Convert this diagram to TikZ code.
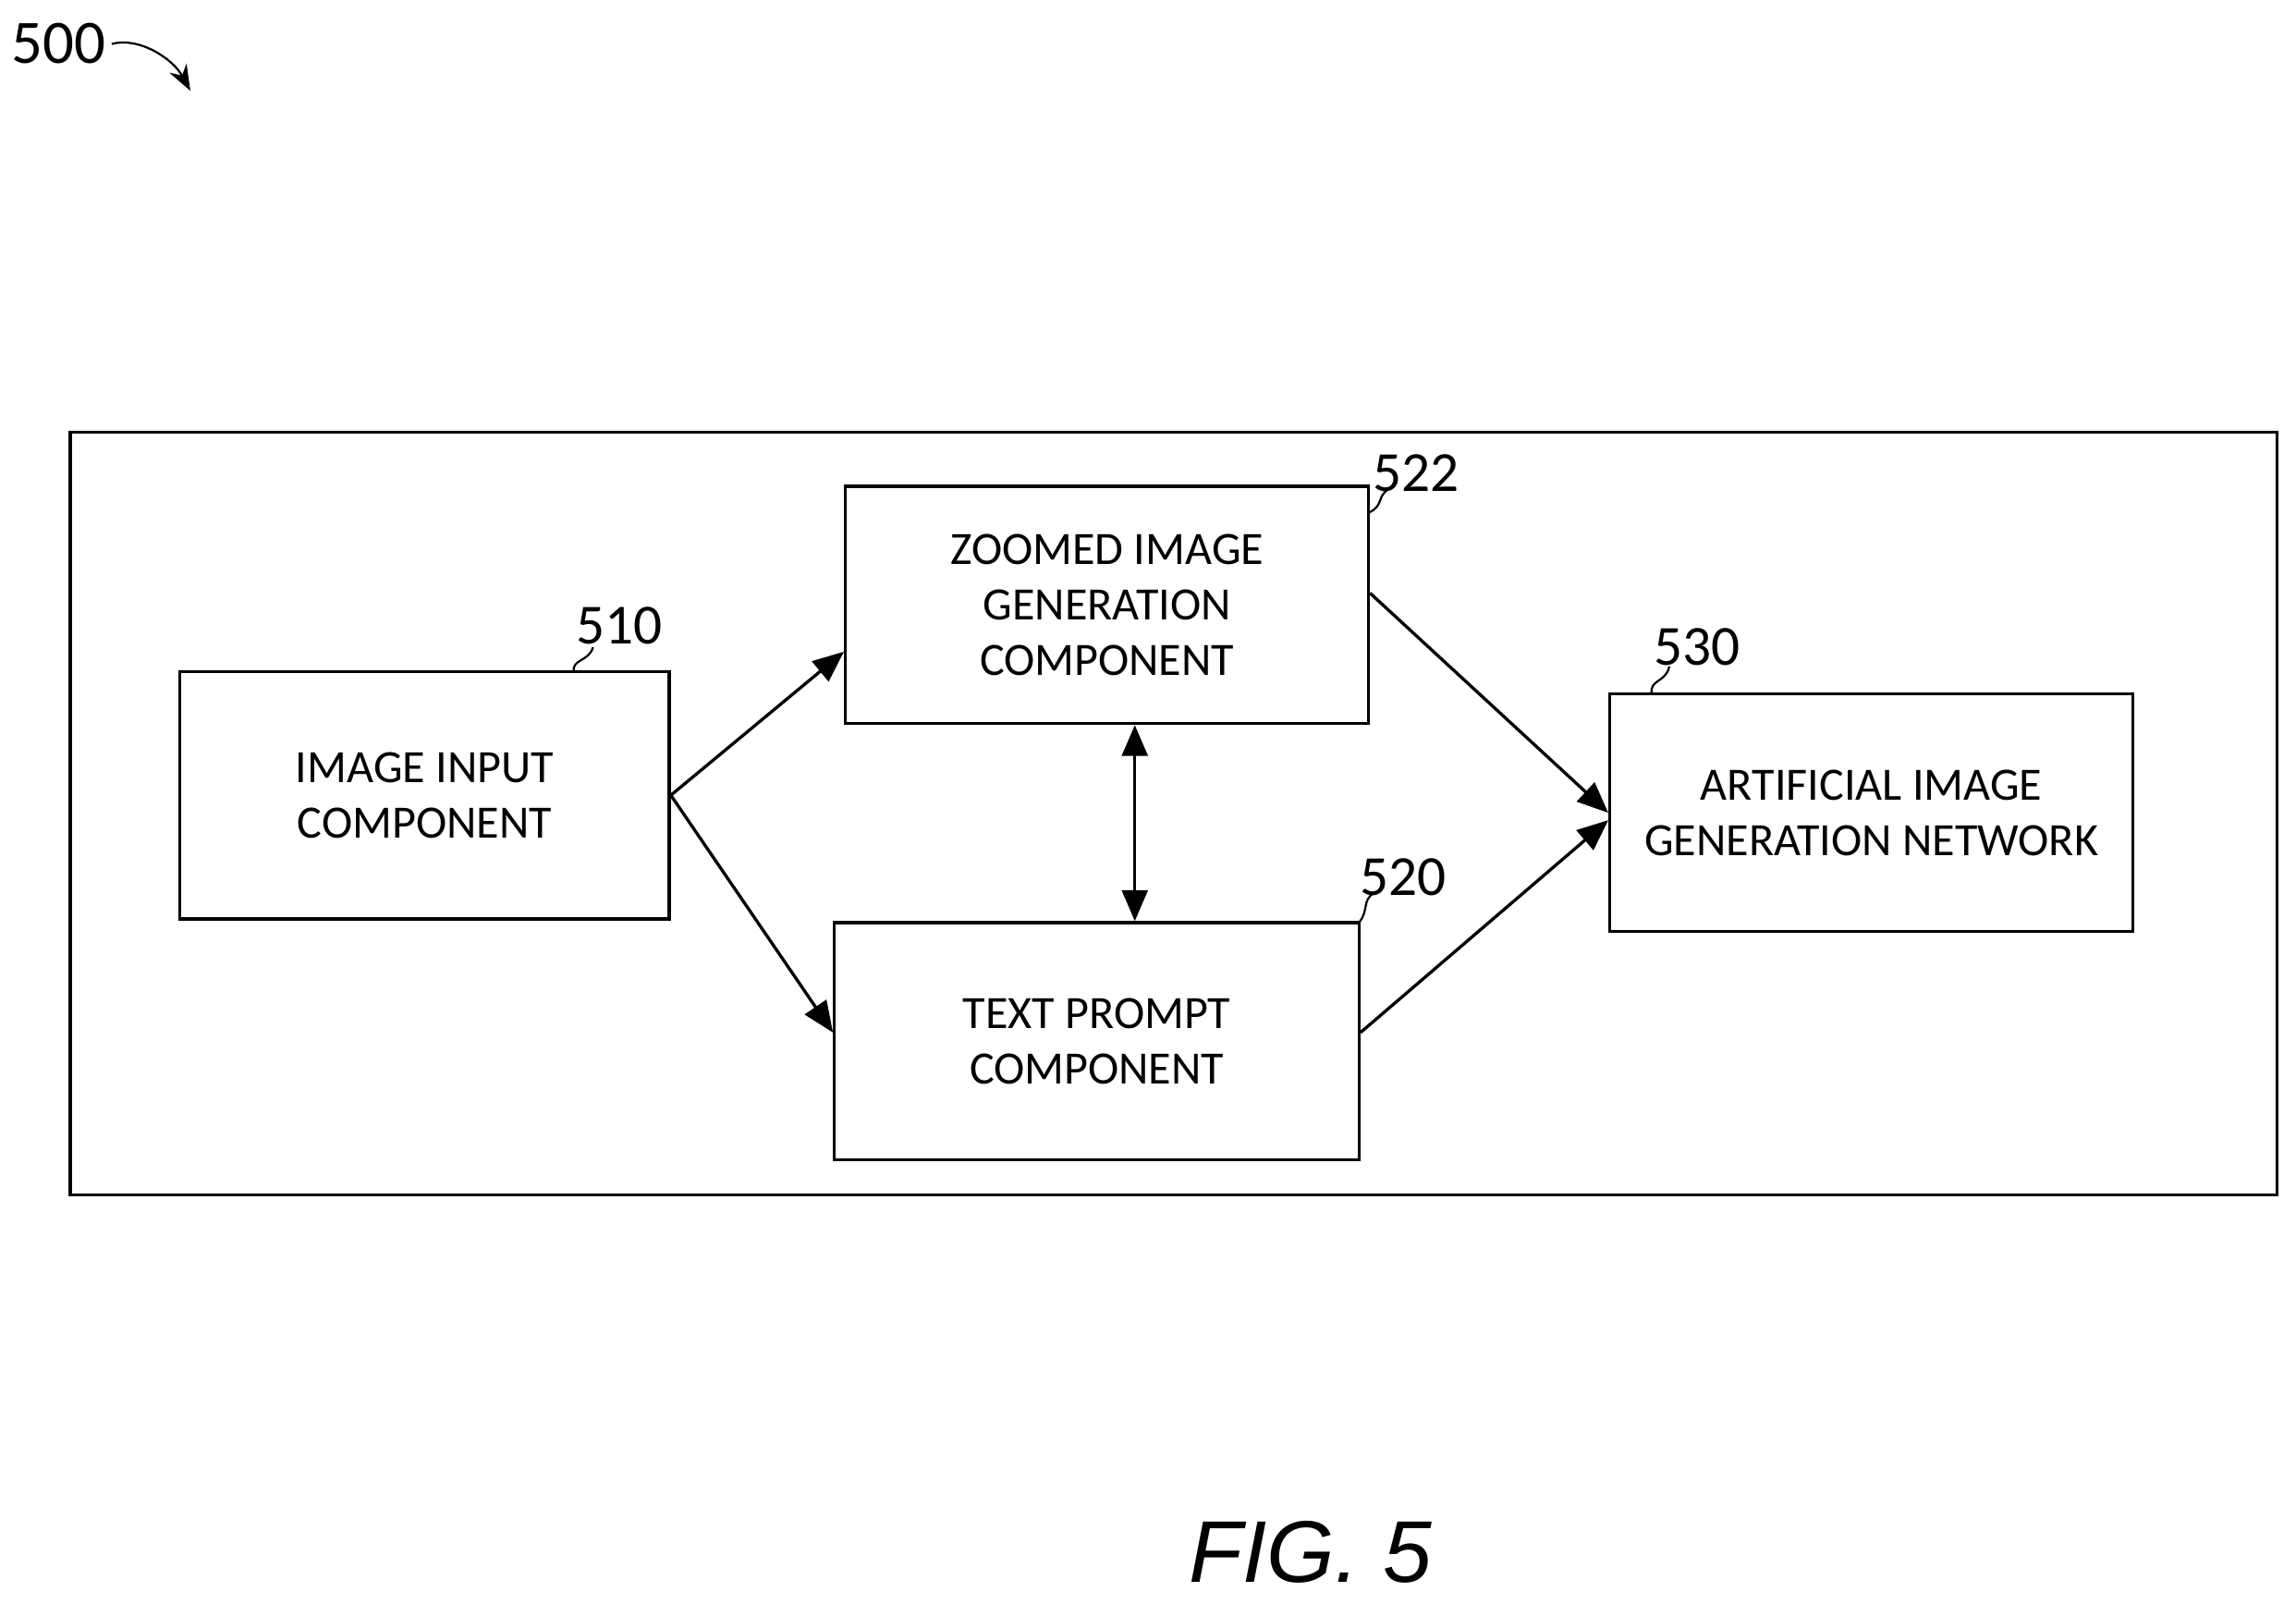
\documentclass[tikz,border=0pt]{standalone}
\usepackage{fontspec}
\setmainfont{Carlito}
\newfontfamily\figfont{Liberation Sans}
\usetikzlibrary{arrows.meta}
\tikzset{
  blk/.style={draw,semithick,align=center,inner sep=0pt,font=\fontsize{9}{10.8}\selectfont},
  ref/.style={font=\fontsize{11}{12}\selectfont},
  arr/.style={-{Triangle[length=6pt,width=5pt]},semithick},
}
\begin{document}
\begin{tikzpicture}[x=0.01cm,y=-0.01cm]
    \useasboundingbox (0,0) rectangle (1568,1095);
    \draw[semithick] (48,295) rectangle (1555,816);
    % blocks
    \node[blk,minimum width=3.34cm,minimum height=1.69cm] (inp)  at (290,543) {IMAGE INPUT\\COMPONENT};
    \node[blk,minimum width=3.57cm,minimum height=1.62cm] (zoom) at (756,413) {ZOOMED IMAGE\\GENERATION\\COMPONENT};
    \node[blk,minimum width=3.58cm,minimum height=1.62cm] (txt)  at (749,711) {TEXT PROMPT\\COMPONENT};
    \node[blk,minimum width=3.57cm,minimum height=1.62cm] (net)  at (1278,555) {ARTIFICIAL IMAGE\\GENERATION NETWORK};
    % reference numbers
    \node[ref] (n510) at (423,427) {510};
    \node[ref] (n522) at (967,323) {522};
    \node[ref] (n520) at (958,599) {520};
    \node[ref] (n530) at (1159,442) {530};
    \draw (392,459) .. controls (390,450) and (402,452) .. (405,442);
    \draw (935,350) .. controls (945,345) and (940,340) .. (948,334);
    \draw (928,630) .. controls (935,622) and (930,615) .. (938,610);
    \draw (1128,474) .. controls (1126,464) and (1138,466) .. (1140,455);
    % connectors
    \draw[arr] (inp.east) -- (zoom.west |- 0,445);
    \draw[arr] (inp.east) -- (txt.west |- 0,705);
    \draw[arr] (zoom.east |- 0,405) -- (net.west);
    \draw[arr] (txt.east |- 0,705) -- (net.west |- 0,560);
    \draw[arr,{Triangle[length=6pt,width=5pt]}-{Triangle[length=6pt,width=5pt]}] (zoom.south -| 775,0) -- (txt.north -| 775,0);
    % figure number
    \node[font=\fontsize{12}{13}\selectfont,inner sep=1pt] (fig) at (40,30) {500};
    \coordinate (figend) at (130,62);
    \draw[-{Stealth[length=5pt]}] (fig.east) .. controls (95,25) and (118,40) .. (figend);
    \node[font=\figfont\itshape\fontsize{17}{19}\selectfont] (cap) at (895,1060) {FIG. 5};
\end{tikzpicture}
\end{document}
